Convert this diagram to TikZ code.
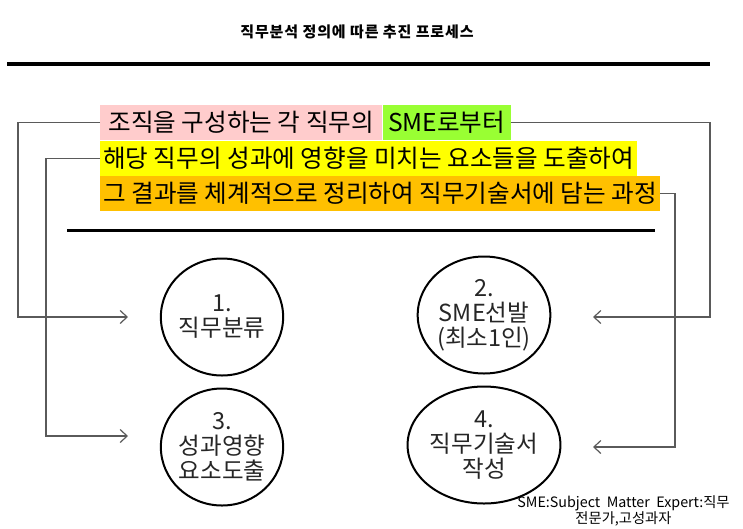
\documentclass[tikz,border=0pt]{standalone}
\usepackage{fontspec}
\setmainfont{Noto Sans CJK KR}
\usetikzlibrary{shapes.geometric, arrows.meta}
\definecolor{pinkhl}{HTML}{FFCCCC}
\definecolor{greenhl}{HTML}{99FF33}
\definecolor{yellowhl}{HTML}{FFFF00}
\definecolor{orangehl}{HTML}{FFC000}
\definecolor{wirecol}{HTML}{5A5A5A}
\tikzset{
	hl/.style = {anchor=north west, minimum width=#1, minimum height=35pt,
		inner xsep=0pt, inner ysep=0pt, font=\fontsize{24.6}{26}\selectfont},
	stage/.style = {ellipse, draw, line width=2pt, minimum width=119pt,
		minimum height=117pt, inner sep=0pt, align=center, text=black!85,
		font=\fontsize{23.5}{25}\selectfont},
	wire/.style = {draw=wirecol, line width=1.2pt,
		-{Straight Barb[length=7pt, width=13pt]}}
}

\begin{document}
\begin{tikzpicture}[x=1pt, y=-1pt]
\useasboundingbox (0,0) rectangle (743,528);

% title and rules
\node[font=\bfseries\fontsize{15}{16}\selectfont\addfontfeature{LetterSpace=6}] (title) at (357,32) {직무분석 정의에 따른 추진 프로세스};
\draw[line width=4pt] (7,64) -- (710,64);
\draw[line width=3pt] (67,230) -- (655,230);

% definition
\node[hl=282pt, fill=pinkhl] (sme1) at (100,105) {조직을 구성하는 각 직무의};
\node[hl=128pt, fill=greenhl] (sme2) at (sme1.north east) {SME로부터};
\node[hl=537pt, fill=yellowhl] (row2) at (sme1.south west) {해당 직무의 성과에 영향을 미치는 요소들을 도출하여};
\node[hl=560pt, fill=orangehl] (row3) at (row2.south west) {그 결과를 체계적으로 정리하여 직무기술서에 담는 과정};

% stages
\node[stage] (e1) at (222,317) {1.\\직무분류};
\node[stage] (e2) at (484,315) {2.\\SME선발\\(최소1인)};
\node[stage] (e3) at (222,447) {3.\\성과영향\\요소도출};
\node[stage] (e4) at (484,445) {4.\\직무기술서\\작성};

\coordinate (in1) at (128,317);
\coordinate (in3) at (128,436);
\coordinate (in2) at (593,317);
\coordinate (in4) at (593,447);

\draw[wire] (sme1.west) -| ([xshift=-110pt]in1) -- (in1);
\draw[wire] (row2.west) -| ([xshift=-82pt]in3) -- (in3);
\draw[wire] (sme2.east) -| ([xshift=117pt]in2) -- (in2);
\draw[wire] (row3.east) -| ([xshift=82pt]in4) -- (in4);

\node[font=\fontsize{14.3}{16}\selectfont, align=center] (note) at (623.5,511)
	{SME:Subject\ \ Matter\ \ Expert:직무\\전문가,고성과자};
\end{tikzpicture}
\end{document}
